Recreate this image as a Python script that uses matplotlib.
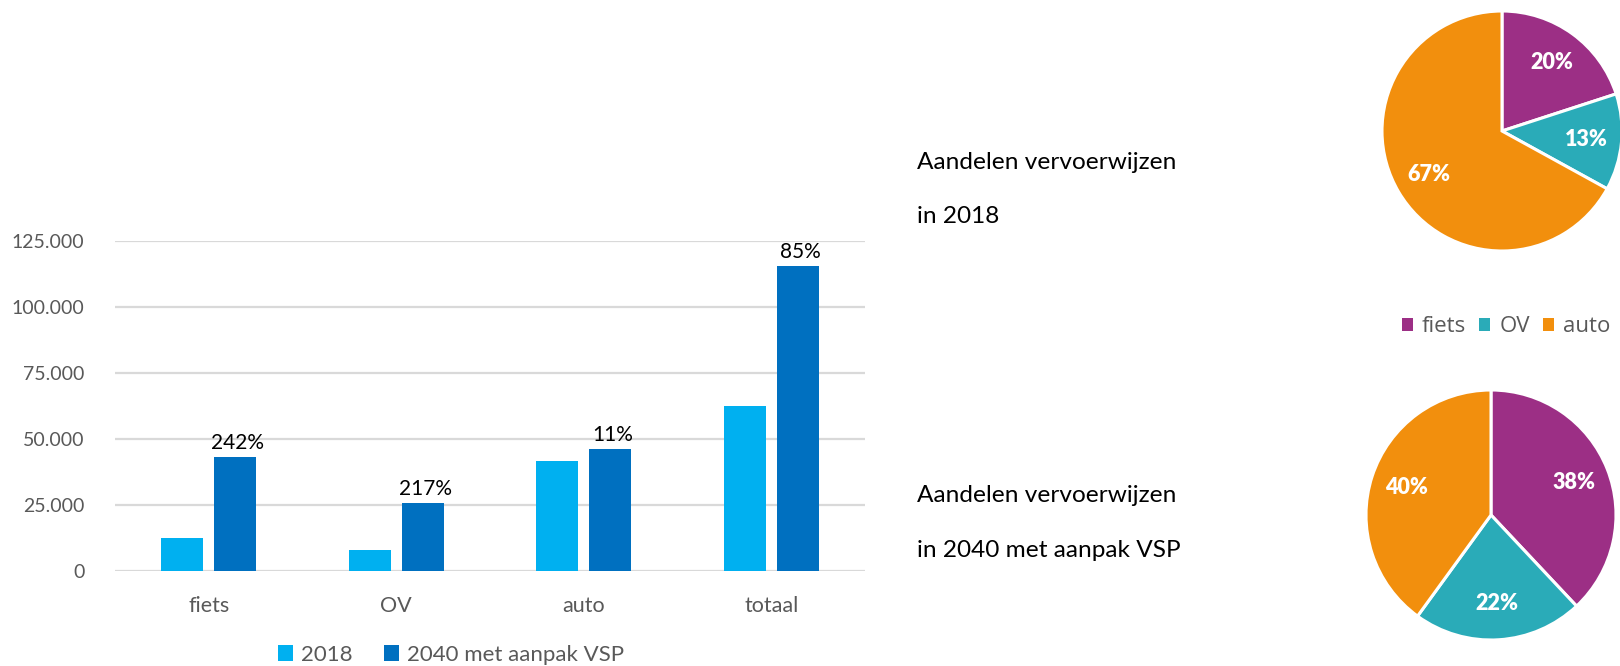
import matplotlib
matplotlib.use("Agg")
import matplotlib.pyplot as plt
from matplotlib.patches import Patch
import numpy as np

# ---- data ----
categories = ["fiets", "OV", "auto", "totaal"]
values_2018 = [12600, 8100, 41800, 62500]
values_2040 = [43300, 25600, 46300, 115500]
growth_labels = ["242%", "217%", "11%", "85%"]
series_names = ["2018", "2040 met aanpak VSP"]
yticks = [0, 25000, 50000, 75000, 100000, 125000]
ytick_labels = ["0", "25.000", "50.000", "75.000", "100.000", "125.000"]

modes = ["fiets", "OV", "auto"]
shares_2018 = [20, 13, 67]
shares_2040 = [38, 22, 40]
title_2018 = ["Aandelen vervoerwijzen", "in 2018"]
title_2040 = ["Aandelen vervoerwijzen", "in 2040 met aanpak VSP"]

# ---- style ----
W, H = 1620, 666
FONT = "Lato"
GREY = "#595959"
C2018 = "#00B0F0"
C2040 = "#0070C0"
PIE_COLORS = ["#9C2F85", "#2AABB8", "#F28F0D"]

fig = plt.figure(figsize=(W / 100, H / 100), dpi=100)
fig.patch.set_facecolor("white")

def fx(px):
    return px / W

def fy(py):
    return 1 - py / H

# ---- bar chart ----
ax = fig.add_axes([fx(115), fy(571), fx(865 - 115), (571 - 241) / H])
x = np.arange(len(categories))
bw = 0.224
off = 0.141
ax.bar(x - off, values_2018, width=bw, color=C2018, zorder=3)
b2 = ax.bar(x + off, values_2040, width=bw, color=C2040, zorder=3)
for rect, lab in zip(b2, growth_labels):
    ax.annotate(lab, (rect.get_x() + rect.get_width() / 2, rect.get_height()),
                xytext=(2, 3), textcoords="offset points", ha="center", va="bottom",
                fontsize=15, family=FONT, color="black")
ax.set_xlim(-0.5, len(categories) - 0.5)
ax.set_ylim(0, 125000)
ax.set_yticks(yticks)
ax.set_yticklabels(ytick_labels, family=FONT, fontsize=14, color=GREY)
ax.set_xticks(x)
ax.set_xticklabels(categories, family=FONT, fontsize=15.5, color=GREY)
ax.tick_params(axis="both", length=0)
ax.tick_params(axis="y", pad=22)
ax.tick_params(axis="x", pad=18)
ax.grid(axis="y", color="#D9D9D9", linewidth=1.6, zorder=0)
for s in ax.spines.values():
    s.set_visible(False)

handles = [Patch(facecolor=C2018), Patch(facecolor=C2040)]
fig.legend(handles, series_names, loc="center", bbox_to_anchor=(fx(451), fy(655)),
           ncol=2, frameon=False, prop={"family": FONT, "size": 16},
           labelcolor=GREY, handlelength=0.7, handleheight=0.7, handletextpad=0.35,
           columnspacing=1.4, borderpad=0)

# ---- side titles ----
for lines, ys in ((title_2018, (169, 223)), (title_2040, (502, 557))):
    for t, yb in zip(lines, ys):
        fig.text(fx(917), fy(yb), t, family=FONT, fontsize=17.6, color="black",
                 va="baseline", ha="left")

# ---- pies ----
def draw_pie(cx, cy, r, shares):
    pax = fig.add_axes([fx(cx - r), fy(cy + r), 2 * r / W, 2 * r / H])
    wedges, texts = pax.pie(shares, colors=PIE_COLORS, startangle=90, counterclock=False,
                            radius=1, labels=[f"{s}%" for s in shares], labeldistance=0.71,
                            wedgeprops={"edgecolor": "white", "linewidth": 2.2},
                            textprops={"color": "white", "fontsize": 15.5,
                                       "fontweight": "heavy", "family": FONT})
    for t in texts:
        t.set_ha("center")
        t.set_va("center")
    pax.set_xlim(-1, 1)
    pax.set_ylim(-1, 1)
    pax.set_aspect("equal")
    pax.axis("off")
    for w in wedges:
        w.set_clip_on(False)

draw_pie(1502, 131, 120, shares_2018)
draw_pie(1491, 515, 125, shares_2040)

phandles = [Patch(facecolor=c) for c in PIE_COLORS]
fig.legend(phandles, modes, loc="center", bbox_to_anchor=(fx(1506), fy(327)),
           ncol=3, frameon=False, prop={"family": "Open Sans", "size": 16},
           labelcolor=GREY, handlelength=0.5, handleheight=0.5, handletextpad=0.4,
           columnspacing=0.6, borderpad=0)

fig.savefig("out.png", dpi=100, facecolor="white")
